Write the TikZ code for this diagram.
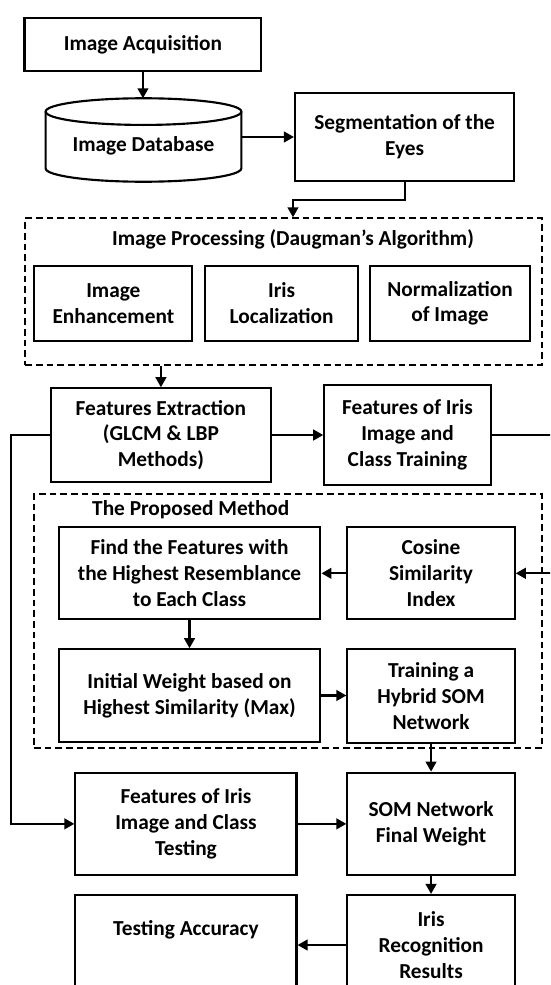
\documentclass[tikz,border=0pt]{standalone}
\usepackage{fontspec}
\setmainfont{Carlito}
\usetikzlibrary{arrows.meta}

\begin{document}
\begin{tikzpicture}[
  x=0.75pt, y=-0.75pt,
  every node/.style={font=\bfseries\fontsize{16}{19.3}\selectfont},
  % place a node by its top-left and bottom-right corners (in px)
  corners/.style n args={4}{
    minimum width={(#3-#1)*0.75pt}, minimum height={(#4-#2)*0.75pt},
    at={({(#1+#3)/2},{(#2+#4)/2})}},
  box/.style={draw, line width=1.6pt, align=center, inner sep=0pt},
  groupbox/.style={draw, line width=1.5pt, dash pattern=on 5pt off 3pt, inner sep=0pt},
  plain/.style={align=center, inner sep=0pt},
  arr/.style={line width=1.6pt, -{Triangle[length=7.5pt,width=8pt]}},
  conn/.style={line width=1.6pt}
]
\useasboundingbox (0,0) rectangle (550,985);
\clip (0,0) rectangle (550,985);

% --- acquisition and database ---
\node[box, corners={24.5}{18.3}{261.4}{70.7}] (ia) {Image Acquisition};

% database drawn as a cylinder
\draw[conn] (143.5,111.6) ellipse [x radius=73.4pt, y radius=10pt];
\draw[conn] (45.6,111.6) -- (45.6,168.4)
  arc[start angle=180, end angle=360, x radius=73.4pt, y radius=10pt]
  -- (241.4,111.6);
\coordinate (dbtop) at (143.5,98.3);
\node[plain, minimum width=146.85pt] (db) at (143.5,146) {Image Database};

\node[box, corners={295}{93.3}{514.3}{180.7}] (seg) {Segmentation of the\\Eyes};

% --- image processing group ---
\node[groupbox, corners={25.3}{218.3}{542}{365}] (ip) {};
\node[plain] (ipt) at (293,239.3) {Image Processing (Daugman’s Algorithm)};
\node[box, corners={34.4}{265.7}{192.3}{341}] (ie) {Image\\Enhancement};
\node[box, corners={205.3}{265.7}{357.9}{341}] (il) {Iris\\Localization};
\node[box, corners={370.2}{265.7}{529.8}{341}] (ni) {Normalization\\of Image};

% --- feature extraction ---
\node[box, corners={50.9}{388.3}{270.9}{481.7}] (fe) {Features Extraction\\(GLCM \& LBP\\Methods)};
\node[box, corners={324.3}{385}{490.7}{485}] (fit) {Features of Iris\\Image and\\Class Training};

% --- proposed method group ---
\node[groupbox, corners={34}{494}{542}{748.3}] (pm) {};
\node[plain] (pmt) at (190.8,510) {The Proposed Method};
\node[box, corners={58.6}{527.3}{320.4}{619.3}] (find) {Find the Features with\\the Highest Resemblance\\to Each Class};
\node[box, corners={347.4}{527.3}{514.7}{619.3}] (cos) {Cosine\\Similarity\\Index};
\node[box, corners={58.6}{649.3}{320.4}{741.7}] (init) {Initial Weight based on\\Highest Similarity (Max)};
\node[box, corners={347.4}{649.3}{514.7}{742.7}] (train) {Training a\\Hybrid SOM\\Network};

% --- testing ---
\node[box, corners={75.4}{772.7}{296.5}{875}] (test) {Features of Iris\\Image and Class\\Testing};
\node[box, corners={347.4}{772.7}{514.7}{875}] (som) {SOM Network\\Final Weight};
\node[box, corners={75.4}{895}{296.5}{995}] (ta) {Testing Accuracy\\\strut};
\node[box, corners={347.4}{895}{514.7}{995}] (irr) {Iris\\Recognition\\Results};

% --- connectors ---
\draw[arr] (ia.south) -- (ia.south |- dbtop);
\draw[arr] (seg.west -| db.east) -- (seg.west);
\draw[arr] (seg.south) -- ++(0,18.3) -| ([xshift=7pt]ip.north);
\draw[arr] (ip.south -| fe.north) -- (fe.north);
\draw[arr] (fe.east) -- (fe.east -| fit.west);
\draw[arr] (fit.east) -- ++(65.3,0) |- (cos.east);
\draw[arr] (cos.west) -- (find.east);
\draw[arr] (find.south) -- (init.north);
\draw[arr] (init.east) -- (init.east -| train.west);
\draw[arr] (train.south) -- (train.south |- som.north);
\draw[arr] (fe.west) -- ++(-38.6,0) |- (test.west);
\draw[arr] (test.east) -- (som.west);
\draw[arr] (som.south) -- (irr.north);
\draw[arr] (irr.west) -- (irr.west -| ta.east);
\end{tikzpicture}
\end{document}
